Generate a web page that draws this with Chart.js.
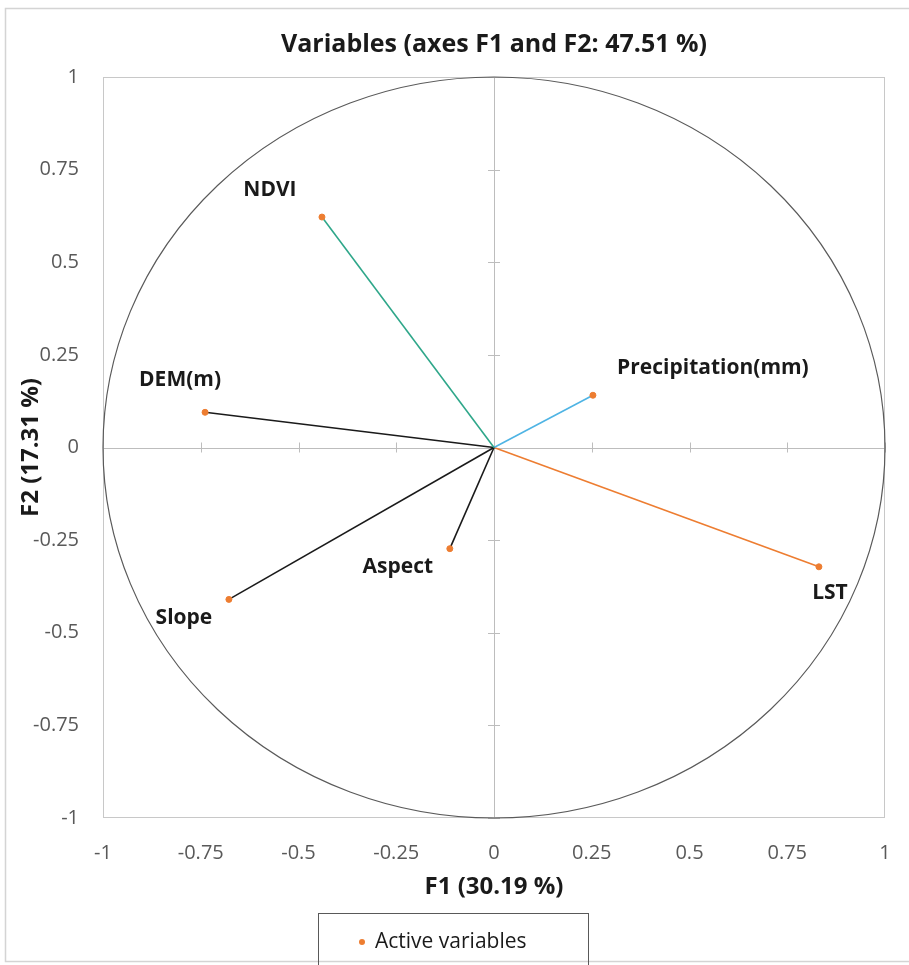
<!DOCTYPE html>
<html>
<head>
<meta charset="utf-8">
<script src="https://cdn.jsdelivr.net/npm/chart.js@4.4.0/dist/chart.umd.min.js"></script>
<style>
  html, body { margin: 0; padding: 0; background: #fff; }
  #wrap { width: 909px; height: 965px; }
</style>
</head>
<body>
<div id="wrap"><canvas id="pca"></canvas></div>
<script>
// loadings
const variables = ['NDVI', 'DEM(m)', 'Slope', 'Aspect', 'Precipitation(mm)', 'LST']
const f1 = [-0.44, -0.739, -0.678, -0.113, 0.253, 0.831]
const f2 = [0.622, 0.095, -0.41, -0.273, 0.141, -0.322]
const axisTicks = [-1, -0.75, -0.5, -0.25, 0, 0.25, 0.5, 0.75, 1]

// styling per variable
const lineColors = ['#2fa78a', '#1a1a1a', '#1a1a1a', '#1a1a1a', '#4fb4e4', '#ed7d31']
const labelOffsets = [[-52, -27], [-25, -32], [-45, 19], [-52, 18], [120, -27], [11, 26]]

const pointColor = '#ed7d31'
const fontFam = '"Open Sans", sans-serif'

const lineSets = variables.map((v, i) => ({
  label: v,
  data: [{ x: 0, y: 0 }, { x: f1[i], y: f2[i] }],
  showLine: true,
  borderColor: lineColors[i],
  borderWidth: 1.6,
  pointRadius: 0,
  order: 2,
}))

const pointSet = {
  label: 'Active variables',
  data: variables.map((v, i) => ({ x: f1[i], y: f2[i] })),
  backgroundColor: pointColor,
  borderColor: pointColor,
  pointRadius: 3,
  order: 1,
}

// circle, zero lines, frame, titles, labels, legend box
const decor = {
  id: 'decor',
  beforeDatasetsDraw(chart) {
    const { ctx, chartArea: a, scales: { x, y } } = chart
    const x0 = x.getPixelForValue(0), y0 = y.getPixelForValue(0)
    ctx.save()
    // plot border
    ctx.strokeStyle = '#c8c8c8'
    ctx.lineWidth = 1
    ctx.strokeRect(a.left + 0.5, a.top + 0.5, a.width - 1, a.height - 1)
    // zero lines with tick marks
    ctx.strokeStyle = '#bdbdbd'
    ctx.beginPath()
    ctx.moveTo(a.left, Math.round(y0) + 0.5); ctx.lineTo(a.right, Math.round(y0) + 0.5)
    ctx.moveTo(Math.round(x0) + 0.5, a.top); ctx.lineTo(Math.round(x0) + 0.5, a.bottom)
    axisTicks.forEach(t => {
      const px = Math.round(x.getPixelForValue(t)) + 0.5
      const py = Math.round(y.getPixelForValue(t)) + 0.5
      ctx.moveTo(px, y0 - 5); ctx.lineTo(px, y0 + 5)
      ctx.moveTo(x0 - 6, py); ctx.lineTo(x0 + 6, py)
    })
    ctx.stroke()
    // unit circle
    ctx.strokeStyle = '#5a5a5a'
    ctx.lineWidth = 1.2
    ctx.beginPath()
    ctx.ellipse(x0, y0, x.getPixelForValue(1) - x0, y0 - y.getPixelForValue(1), 0, 0, Math.PI * 2)
    ctx.stroke()
    ctx.restore()
  },
  afterDraw(chart) {
    const { ctx, scales: { x, y } } = chart
    const cx = x.getPixelForValue(0)
    ctx.save()
    // outer frame
    ctx.strokeStyle = '#d4d4d4'
    ctx.lineWidth = 1.5
    ctx.strokeRect(5.5, 8.5, 1000, 953)
    // title
    ctx.fillStyle = '#1a1a1a'
    ctx.textAlign = 'center'
    ctx.textBaseline = 'middle'
    ctx.font = 'bold 25px ' + fontFam
    ctx.fillText('Variables (axes F1 and F2: 47.51 %)', cx, 45)
    // axis titles
    ctx.font = 'bold 24px ' + fontFam
    ctx.fillText('F1 (30.19 %)', cx, 887)
    ctx.save()
    ctx.translate(31, y.getPixelForValue(0))
    ctx.rotate(-Math.PI / 2)
    ctx.fillText('F2 (17.31 %)', 0, 0)
    ctx.restore()
    // variable labels
    ctx.font = 'bold 21px ' + fontFam
    variables.forEach((v, i) => {
      const px = x.getPixelForValue(f1[i]) + labelOffsets[i][0]
      const py = y.getPixelForValue(f2[i]) + labelOffsets[i][1]
      ctx.fillText(v, px, py)
    })
    // legend box
    ctx.strokeStyle = '#595959'
    ctx.lineWidth = 1
    ctx.strokeRect(318.5, 913.5, 270, 80)
    ctx.fillStyle = pointColor
    ctx.beginPath()
    ctx.arc(362, 942, 3, 0, Math.PI * 2)
    ctx.fill()
    ctx.fillStyle = '#1a1a1a'
    ctx.textAlign = 'left'
    ctx.font = '21px ' + fontFam
    ctx.fillText(pointSet.label, 375, 942)
    ctx.restore()
  }
}

const tickFont = { family: fontFam, size: 20 }
const tickText = v => String(v)

const pcaConfig = {
  type: 'scatter',
  data: { datasets: [...lineSets, pointSet] },
  options: {
    responsive: true,
    maintainAspectRatio: false,
    animation: false,
    layout: { padding: { left: 0, right: 24, top: 77, bottom: 0 } },
    plugins: {
      legend: { display: false },
      tooltip: { enabled: false },
    },
    scales: {
      x: {
        type: 'linear',
        min: -1,
        max: 1,
        afterFit: s => { s.height = 147; s.paddingLeft = 0; s.paddingRight = 0 },
        afterBuildTicks: s => { s.ticks = axisTicks.map(v => ({ value: v })) },
        grid: { display: false, drawTicks: false },
        border: { display: false },
        ticks: { font: tickFont, color: '#595959', padding: 23, maxRotation: 0, callback: tickText },
      },
      y: {
        type: 'linear',
        min: -1,
        max: 1,
        afterFit: s => { s.width = 103; s.paddingTop = 0; s.paddingBottom = 0 },
        afterBuildTicks: s => { s.ticks = axisTicks.map(v => ({ value: v })) },
        grid: { display: false, drawTicks: false },
        border: { display: false },
        ticks: { font: tickFont, color: '#595959', padding: 24, callback: tickText },
      },
    },
  },
  plugins: [decor],
}

const pcaCtx = document.getElementById('pca')
window.pcaChart = new Chart(pcaCtx, pcaConfig)
</script>
</body>
</html>
